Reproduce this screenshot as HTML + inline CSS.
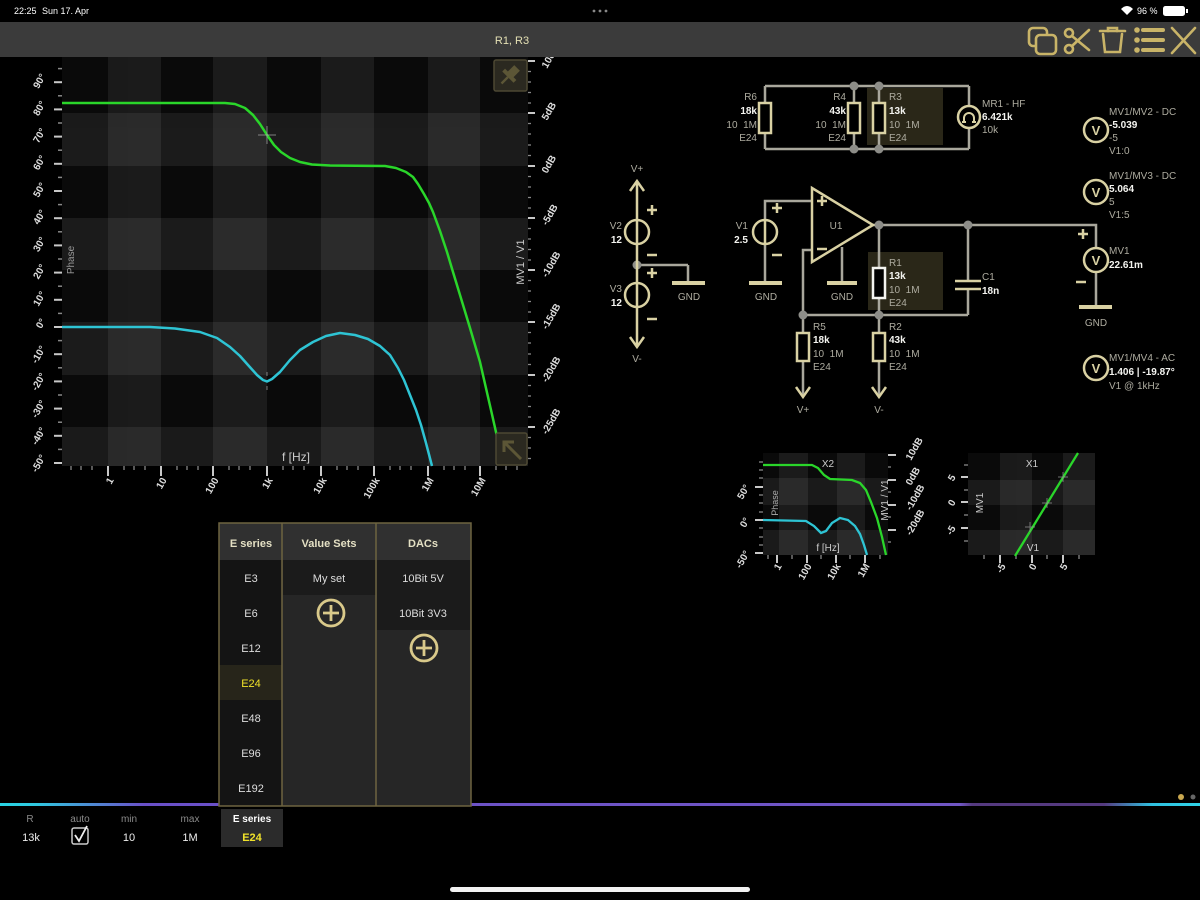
<!DOCTYPE html>
<html><head><meta charset="utf-8"><style>
html,body{margin:0;padding:0;background:#000;width:1200px;height:900px;overflow:hidden}
svg{display:block}
text{font-family:"Liberation Sans",sans-serif}
.pre{white-space:pre}
</style></head><body>
<svg width="1200" height="900" viewBox="0 0 1200 900" xmlns="http://www.w3.org/2000/svg">
<defs>
<linearGradient id="bar" x1="0" y1="0" x2="1200" y2="0" gradientUnits="userSpaceOnUse">
<stop offset="0" stop-color="#28d4e4"/><stop offset="0.03" stop-color="#30c8e0"/><stop offset="0.12" stop-color="#6a50c8"/>
<stop offset="0.8" stop-color="#7056c4"/><stop offset="0.81" stop-color="#553a80"/><stop offset="0.92" stop-color="#553a80"/>
<stop offset="0.96" stop-color="#30c0e0"/><stop offset="1" stop-color="#30d4e8"/>
</linearGradient>
</defs>
<rect width="1200" height="900" fill="#000"/>

<!-- ===== MAIN PLOT ===== -->
<rect x="62" y="57" width="466" height="409" fill="#0a0a0a"/>
<g fill="#fff" opacity="0.065">
<rect x="108" y="57" width="53" height="409"/><rect x="213" y="57" width="54" height="409"/>
<rect x="321" y="57" width="53" height="409"/><rect x="428" y="57" width="52" height="409"/>
</g>
<g fill="#fff" opacity="0.065">
<rect x="62" y="113" width="466" height="53"/><rect x="62" y="218" width="466" height="52"/>
<rect x="62" y="322" width="466" height="53"/><rect x="62" y="427" width="466" height="39"/>
</g>

<!-- left ticks -->
<g stroke="#c8c8c8" stroke-width="2">
<line x1="54" y1="82.2" x2="62" y2="82.2"/><line x1="54" y1="109.4" x2="62" y2="109.4"/><line x1="54" y1="136.6" x2="62" y2="136.6"/>
<line x1="54" y1="163.8" x2="62" y2="163.8"/><line x1="54" y1="191" x2="62" y2="191"/><line x1="54" y1="218.2" x2="62" y2="218.2"/>
<line x1="54" y1="245.4" x2="62" y2="245.4"/><line x1="54" y1="272.6" x2="62" y2="272.6"/><line x1="54" y1="299.8" x2="62" y2="299.8"/>
<line x1="54" y1="327" x2="62" y2="327"/><line x1="54" y1="354.2" x2="62" y2="354.2"/><line x1="54" y1="381.4" x2="62" y2="381.4"/>
<line x1="54" y1="408.6" x2="62" y2="408.6"/><line x1="54" y1="435.8" x2="62" y2="435.8"/><line x1="54" y1="463" x2="62" y2="463"/>
</g>
<g stroke="#888" stroke-width="1.5">
<line x1="58" y1="68.6" x2="62" y2="68.6"/><line x1="58" y1="95.8" x2="62" y2="95.8"/><line x1="58" y1="123" x2="62" y2="123"/>
<line x1="58" y1="150.2" x2="62" y2="150.2"/><line x1="58" y1="177.4" x2="62" y2="177.4"/><line x1="58" y1="204.6" x2="62" y2="204.6"/>
<line x1="58" y1="231.8" x2="62" y2="231.8"/><line x1="58" y1="259" x2="62" y2="259"/><line x1="58" y1="286.2" x2="62" y2="286.2"/>
<line x1="58" y1="313.4" x2="62" y2="313.4"/><line x1="58" y1="340.6" x2="62" y2="340.6"/><line x1="58" y1="367.8" x2="62" y2="367.8"/>
<line x1="58" y1="395" x2="62" y2="395"/><line x1="58" y1="422.2" x2="62" y2="422.2"/><line x1="58" y1="449.4" x2="62" y2="449.4"/>
</g>
<g font-size="10" fill="#ddd" text-anchor="end" font-weight="bold">
<text transform="translate(46,76.2) rotate(-60)">90°</text>
<text transform="translate(46,103.4) rotate(-60)">80°</text>
<text transform="translate(46,130.6) rotate(-60)">70°</text>
<text transform="translate(46,157.8) rotate(-60)">60°</text>
<text transform="translate(46,185) rotate(-60)">50°</text>
<text transform="translate(46,212.2) rotate(-60)">40°</text>
<text transform="translate(46,239.4) rotate(-60)">30°</text>
<text transform="translate(46,266.6) rotate(-60)">20°</text>
<text transform="translate(46,293.8) rotate(-60)">10°</text>
<text transform="translate(46,321) rotate(-60)">0°</text>
<text transform="translate(46,348.2) rotate(-60)">-10°</text>
<text transform="translate(46,375.4) rotate(-60)">-20°</text>
<text transform="translate(46,402.6) rotate(-60)">-30°</text>
<text transform="translate(46,429.8) rotate(-60)">-40°</text>
<text transform="translate(46,457) rotate(-60)">-50°</text>
</g>

<!-- right ticks -->
<g stroke="#c8c8c8" stroke-width="2">
<line x1="528" y1="61" x2="535" y2="61"/><line x1="528" y1="113" x2="535" y2="113"/><line x1="528" y1="166" x2="535" y2="166"/>
<line x1="528" y1="218" x2="535" y2="218"/><line x1="528" y1="270" x2="535" y2="270"/><line x1="528" y1="322" x2="535" y2="322"/>
<line x1="528" y1="375" x2="535" y2="375"/><line x1="528" y1="427" x2="535" y2="427"/>
</g>
<g stroke="#888" stroke-width="1.3">
<line x1="528" y1="71.5" x2="531" y2="71.5"/><line x1="528" y1="82" x2="531" y2="82"/><line x1="528" y1="92.5" x2="531" y2="92.5"/><line x1="528" y1="103" x2="531" y2="103"/>
<line x1="528" y1="123.5" x2="531" y2="123.5"/><line x1="528" y1="134" x2="531" y2="134"/><line x1="528" y1="145" x2="531" y2="145"/><line x1="528" y1="155.5" x2="531" y2="155.5"/>
<line x1="528" y1="176.5" x2="531" y2="176.5"/><line x1="528" y1="187" x2="531" y2="187"/><line x1="528" y1="197.5" x2="531" y2="197.5"/><line x1="528" y1="208" x2="531" y2="208"/>
<line x1="528" y1="228.5" x2="531" y2="228.5"/><line x1="528" y1="239" x2="531" y2="239"/><line x1="528" y1="249.5" x2="531" y2="249.5"/><line x1="528" y1="260" x2="531" y2="260"/>
<line x1="528" y1="280.5" x2="531" y2="280.5"/><line x1="528" y1="291" x2="531" y2="291"/><line x1="528" y1="301.5" x2="531" y2="301.5"/><line x1="528" y1="312" x2="531" y2="312"/>
<line x1="528" y1="332.5" x2="531" y2="332.5"/><line x1="528" y1="343" x2="531" y2="343"/><line x1="528" y1="354" x2="531" y2="354"/><line x1="528" y1="364.5" x2="531" y2="364.5"/>
<line x1="528" y1="385.5" x2="531" y2="385.5"/><line x1="528" y1="396" x2="531" y2="396"/><line x1="528" y1="406.5" x2="531" y2="406.5"/><line x1="528" y1="417" x2="531" y2="417"/>
<line x1="528" y1="437.5" x2="531" y2="437.5"/><line x1="528" y1="448" x2="531" y2="448"/><line x1="528" y1="458.5" x2="531" y2="458.5"/>
</g>
<g font-size="10" fill="#ddd" font-weight="bold">
<text transform="translate(547,69) rotate(-60)">10dB</text>
<text transform="translate(547,121) rotate(-60)">5dB</text>
<text transform="translate(547,174) rotate(-60)">0dB</text>
<text transform="translate(547,226) rotate(-60)">-5dB</text>
<text transform="translate(547,278) rotate(-60)">-10dB</text>
<text transform="translate(547,330) rotate(-60)">-15dB</text>
<text transform="translate(547,383) rotate(-60)">-20dB</text>
<text transform="translate(547,435) rotate(-60)">-25dB</text>
</g>

<!-- bottom ticks -->
<g stroke="#c8c8c8" stroke-width="2">
<line x1="108" y1="466" x2="108" y2="476"/><line x1="161" y1="466" x2="161" y2="476"/><line x1="213" y1="466" x2="213" y2="476"/>
<line x1="267" y1="466" x2="267" y2="476"/><line x1="321" y1="466" x2="321" y2="476"/><line x1="374" y1="466" x2="374" y2="476"/>
<line x1="428" y1="466" x2="428" y2="476"/><line x1="480" y1="466" x2="480" y2="476"/>
</g>
<g stroke="#888" stroke-width="1.3">
<line x1="71" y1="466" x2="71" y2="470"/><line x1="81" y1="466" x2="81" y2="470"/><line x1="92" y1="466" x2="92" y2="470"/>
<line x1="124" y1="466" x2="124" y2="470"/><line x1="134" y1="466" x2="134" y2="470"/><line x1="145" y1="466" x2="145" y2="470"/>
<line x1="177" y1="466" x2="177" y2="470"/><line x1="187" y1="466" x2="187" y2="470"/><line x1="198" y1="466" x2="198" y2="470"/>
<line x1="229" y1="466" x2="229" y2="470"/><line x1="239" y1="466" x2="239" y2="470"/><line x1="250" y1="466" x2="250" y2="470"/>
<line x1="283" y1="466" x2="283" y2="470"/><line x1="293" y1="466" x2="293" y2="470"/><line x1="304" y1="466" x2="304" y2="470"/>
<line x1="337" y1="466" x2="337" y2="470"/><line x1="347" y1="466" x2="347" y2="470"/><line x1="358" y1="466" x2="358" y2="470"/>
<line x1="390" y1="466" x2="390" y2="470"/><line x1="400" y1="466" x2="400" y2="470"/><line x1="411" y1="466" x2="411" y2="470"/>
<line x1="444" y1="466" x2="444" y2="470"/><line x1="454" y1="466" x2="454" y2="470"/><line x1="465" y1="466" x2="465" y2="470"/>
<line x1="496" y1="466" x2="496" y2="470"/><line x1="506" y1="466" x2="506" y2="470"/><line x1="517" y1="466" x2="517" y2="470"/>
</g>
<g font-size="10" fill="#ddd" text-anchor="end" font-weight="bold">
<text transform="translate(114,480) rotate(-60)">1</text>
<text transform="translate(167,480) rotate(-60)">10</text>
<text transform="translate(219,480) rotate(-60)">100</text>
<text transform="translate(273,480) rotate(-60)">1k</text>
<text transform="translate(327,480) rotate(-60)">10k</text>
<text transform="translate(380,480) rotate(-60)">100k</text>
<text transform="translate(434,480) rotate(-60)">1M</text>
<text transform="translate(486,480) rotate(-60)">10M</text>
</g>

<text transform="translate(74,260) rotate(-90)" text-anchor="middle" font-size="10" fill="#999">Phase</text>
<text transform="translate(524,262) rotate(-90)" text-anchor="middle" font-size="11" fill="#ccc">MV1 / V1</text>
<text x="296" y="461" text-anchor="middle" font-size="12" fill="#ccc">f [Hz]</text>

<!-- curves -->
<polyline fill="none" stroke="#2ad62a" stroke-width="2.5" stroke-linejoin="round" points="62,103 225,103 235,104 245,108 253,115 260,124 267,135 274,145 281,152 290,158 300,162 312,164.5 330,165.5 385,166 396,168 406,172 413,177 418,184 424,194 429,203 433,212 440,231 447,252 453,272 460,295 470,328 480,362 491,410 503,463"/>
<polyline fill="none" stroke="#2ec4d4" stroke-width="2.5" stroke-linejoin="round" points="62,327 150,327 175,328.5 200,332 217,338 230,347 240,356 248,365 257,375 263,380 267,381.5 272,379 280,372 290,360 300,350 313,342 326,336 340,333 355,335 368,339 380,346 390,355 398,368 404,380 410,395 416,410 421,425 426,443 432,466"/>
<g stroke="#aaa" stroke-width="1" opacity="0.7">
<line x1="258" y1="135" x2="276" y2="135"/><line x1="267" y1="126" x2="267" y2="144"/>
<line x1="267" y1="372" x2="267" y2="376"/><line x1="267" y1="386" x2="267" y2="390"/>
</g>

<!-- pin & expand -->
<rect x="494" y="60" width="33" height="31" rx="2" fill="#2b2920" stroke="#4d4833" stroke-width="1.5"/>
<g fill="#5c5636" transform="translate(510,75) rotate(45)">
<rect x="-4" y="-10" width="8" height="10"/><rect x="-8" y="-1" width="16" height="4"/><rect x="-1.2" y="3" width="2.4" height="9"/>
</g>
<rect x="496" y="433" width="31" height="32" rx="2" fill="#2b2920" stroke="#4d4833" stroke-width="1.5"/>
<g stroke="#5c5636" stroke-width="3" fill="none"><line x1="521" y1="459" x2="505" y2="443"/><path d="M504,452 V442 H514"/></g>

<!-- ===== STATUS & TITLE BAR ===== -->
<rect x="0" y="0" width="1200" height="22" fill="#000"/>
<text x="14" y="14" font-size="9" fill="#fff">22:25</text>
<text x="42" y="14" font-size="9" fill="#fff">Sun 17. Apr</text>
<circle cx="594" cy="11" r="1.4" fill="#888"/><circle cx="600" cy="11" r="1.4" fill="#888"/><circle cx="606" cy="11" r="1.4" fill="#888"/>
<path d="M1121,9 Q1127,3 1133,9 L1127,15 Z" fill="#fff"/>
<text x="1137" y="14" font-size="9" fill="#fff">96 %</text>
<rect x="1163" y="6" width="22" height="10" rx="2.5" fill="#fff"/><rect x="1186" y="9" width="2" height="4" fill="#fff"/>

<rect x="0" y="22" width="1200" height="35" fill="#3b3b3b"/>
<text x="512" y="44" text-anchor="middle" font-size="11" fill="#e4e0b4">R1, R3</text>
<g stroke="#c9b468" stroke-width="2.6" fill="none" stroke-linecap="round">
<rect x="1029" y="28" width="18" height="18" rx="4"/>
<rect x="1036" y="35" width="20" height="19" rx="4" fill="#3b3b3b"/>
<circle cx="1069" cy="33" r="4"/><circle cx="1069" cy="49" r="4"/>
<line x1="1072" y1="36" x2="1089" y2="50"/><line x1="1072" y1="46" x2="1089" y2="30"/>
<line x1="1100" y1="31" x2="1125" y2="31"/><path d="M1108,31 V28 H1117 V31"/><path d="M1103,34 L1105,52 H1120 L1122,34"/>
<line x1="1143" y1="30" x2="1163" y2="30" stroke-width="4"/><line x1="1143" y1="40" x2="1163" y2="40" stroke-width="4"/><line x1="1143" y1="50" x2="1163" y2="50" stroke-width="4"/>
<line x1="1172" y1="28" x2="1195" y2="53"/><line x1="1195" y1="28" x2="1172" y2="53"/>
</g>
<g fill="#c9b468"><circle cx="1137" cy="30" r="2.8"/><circle cx="1137" cy="40" r="2.8"/><circle cx="1137" cy="50" r="2.8"/></g>

<!-- ===== CIRCUIT ===== -->
<rect x="867" y="88" width="76" height="57" fill="#2a2718"/>
<rect x="868" y="252" width="75" height="58" fill="#2a2718"/>

<g stroke="#a9a79c" stroke-width="2.5" fill="none">
<path d="M765,86 H969 M765,149 H969"/>
<path d="M765,86 V103 M765,133 V149 M854,86 V103 M854,133 V149 M879,86 V103 M879,133 V149 M969,86 V106 M969,128 V149"/>
<path d="M688,265 H637 M688,265 V281"/>
<path d="M812,201 H765 V220"/>
<path d="M812,250 H803 V315"/>
<path d="M842,247 V281"/>
<path d="M873,225 H1096 V248"/>
<path d="M879,225 V268 M879,298 V333"/>
<path d="M803,315 H968 M968,225 V281 M968,289 V315"/>
<path d="M803,315 V333 M803,361 V395 M879,361 V395"/>
<path d="M765,244 V281"/>
<path d="M1096,272 V305"/>
</g>
<g fill="#8d8d88">
<circle cx="854" cy="86" r="4.5"/><circle cx="879" cy="86" r="4.5"/><circle cx="854" cy="149" r="4.5"/><circle cx="879" cy="149" r="4.5"/>
<circle cx="637" cy="265" r="4.5"/><circle cx="879" cy="225" r="4.5"/><circle cx="968" cy="225" r="4.5"/>
<circle cx="803" cy="315" r="4.5"/><circle cx="879" cy="315" r="4.5"/>
</g>

<g stroke="#d9d1a3" stroke-width="2.5" fill="none">
<rect x="759" y="103" width="12" height="30" fill="#000"/>
<rect x="848" y="103" width="12" height="30" fill="#000"/>
<rect x="873" y="103" width="12" height="30" fill="#000"/>
<circle cx="969" cy="117" r="11"/>
<path d="M964,122 V118 A5,5 0 0 1 974,118 V122 M962,122 H966 M972,122 H976" stroke-width="2"/>
<path d="M637,181 V220 M630,191 L637,181 L644,191"/>
<circle cx="637" cy="232" r="12"/><path d="M637,220 V283"/>
<circle cx="637" cy="295" r="12"/><path d="M637,283 V346 M630,337 L637,347 L644,337"/>
<path d="M647,210 H657 M652,205 V215 M647,255 H657 M647,273 H657 M652,268 V278 M647,319 H657"/>
<path d="M672,283 H705" stroke-width="4"/>
<circle cx="765" cy="232" r="12"/><path d="M765,220 V244"/>
<path d="M772,208 H782 M777,203 V213 M772,255 H782"/>
<path d="M749,283 H782" stroke-width="4"/>
<path d="M812,188 V262 L873,225 Z" stroke-linejoin="miter"/>
<path d="M817,201 H827 M822,196 V206 M817,249 H827"/>
<path d="M827,283 H857" stroke-width="4"/>
<path d="M955,281 H981 M955,289 H981"/>
<rect x="797" y="333" width="12" height="28" fill="#000"/>
<rect x="873" y="333" width="12" height="28" fill="#000"/>
<path d="M796,387 L803,397 L810,387 M872,387 L879,397 L886,387"/>
<path d="M1078,234 H1088 M1083,229 V239 M1076,282 H1086"/>
<circle cx="1096" cy="260" r="12"/>
<path d="M1079,307 H1112" stroke-width="4"/>
<circle cx="1096" cy="130" r="12"/>
<circle cx="1096" cy="192" r="12"/>
<circle cx="1096" cy="368" r="12"/>
</g>
<rect x="873" y="268" width="12" height="30" fill="#000" stroke="#f4f4f0" stroke-width="2.5"/>
<g font-size="13" font-weight="bold" fill="#d9d1a3" text-anchor="middle">
<text x="1096" y="135">V</text><text x="1096" y="197">V</text><text x="1096" y="265">V</text><text x="1096" y="373">V</text>
</g>

<g font-size="10" fill="#aeaca0">
<text x="637" y="172" text-anchor="middle">V+</text>
<text x="637" y="362" text-anchor="middle">V-</text>
<text x="689" y="300" text-anchor="middle">GND</text>
<text x="766" y="300" text-anchor="middle">GND</text>
<text x="842" y="300" text-anchor="middle">GND</text>
<text x="1096" y="326" text-anchor="middle">GND</text>
<text x="803" y="413" text-anchor="middle">V+</text>
<text x="879" y="413" text-anchor="middle">V-</text>
<text x="836" y="229" text-anchor="middle">U1</text>
<text x="622" y="229" text-anchor="end">V2</text>
<text x="622" y="292" text-anchor="end">V3</text>
<text x="748" y="229" text-anchor="end">V1</text>
<text x="757" y="100" text-anchor="end">R6</text>
<text x="757" y="128" text-anchor="end" class="pre">10  1M</text>
<text x="757" y="141" text-anchor="end">E24</text>
<text x="846" y="100" text-anchor="end">R4</text>
<text x="846" y="128" text-anchor="end" class="pre">10  1M</text>
<text x="846" y="141" text-anchor="end">E24</text>
<text x="889" y="100">R3</text>
<text x="889" y="128" class="pre">10  1M</text>
<text x="889" y="141">E24</text>
<text x="982" y="107">MR1 - HF</text>
<text x="982" y="133">10k</text>
<text x="889" y="266">R1</text>
<text x="889" y="293" class="pre">10  1M</text>
<text x="889" y="306">E24</text>
<text x="982" y="280">C1</text>
<text x="813" y="330">R5</text>
<text x="813" y="357" class="pre">10  1M</text>
<text x="813" y="370">E24</text>
<text x="889" y="330">R2</text>
<text x="889" y="357" class="pre">10  1M</text>
<text x="889" y="370">E24</text>
<text x="1109" y="115">MV1/MV2 - DC</text>
<text x="1109" y="141">-5</text>
<text x="1109" y="154">V1:0</text>
<text x="1109" y="179">MV1/MV3 - DC</text>
<text x="1109" y="205">5</text>
<text x="1109" y="218">V1:5</text>
<text x="1109" y="254">MV1</text>
<text x="1109" y="361">MV1/MV4 - AC</text>
<text x="1109" y="389">V1 @ 1kHz</text>
</g>
<g font-size="10" fill="#f4f4f0" font-weight="bold">
<text x="622" y="243" text-anchor="end">12</text>
<text x="622" y="306" text-anchor="end">12</text>
<text x="748" y="243" text-anchor="end">2.5</text>
<text x="757" y="114" text-anchor="end">18k</text>
<text x="846" y="114" text-anchor="end">43k</text>
<text x="889" y="114">13k</text>
<text x="982" y="120">6.421k</text>
<text x="889" y="279">13k</text>
<text x="982" y="294">18n</text>
<text x="813" y="343">18k</text>
<text x="889" y="343">43k</text>
<text x="1109" y="128">-5.039</text>
<text x="1109" y="192">5.064</text>
<text x="1109" y="268">22.61m</text>
<text x="1109" y="375">1.406 | -19.87°</text>
</g>

<!-- ===== SMALL PLOT X2 ===== -->
<rect x="763" y="453" width="125" height="102" fill="#0a0a0a"/>
<g fill="#fff" opacity="0.065"><rect x="779" y="453" width="29" height="102"/><rect x="837" y="453" width="28" height="102"/></g>
<g fill="#fff" opacity="0.065"><rect x="763" y="478" width="125" height="27"/><rect x="763" y="530" width="125" height="25"/></g>
<g stroke="#c8c8c8" stroke-width="2">
<line x1="755" y1="487" x2="763" y2="487"/><line x1="755" y1="520" x2="763" y2="520"/><line x1="755" y1="553" x2="763" y2="553"/>
<line x1="888" y1="455" x2="896" y2="455"/><line x1="888" y1="480" x2="896" y2="480"/><line x1="888" y1="505" x2="896" y2="505"/><line x1="888" y1="530" x2="896" y2="530"/>
<line x1="777" y1="555" x2="777" y2="563"/><line x1="807" y1="555" x2="807" y2="563"/><line x1="836" y1="555" x2="836" y2="563"/><line x1="865" y1="555" x2="865" y2="563"/>
</g>
<g stroke="#888" stroke-width="1.3">
<line x1="759" y1="462" x2="763" y2="462"/><line x1="759" y1="470" x2="763" y2="470"/><line x1="759" y1="478" x2="763" y2="478"/><line x1="759" y1="495" x2="763" y2="495"/><line x1="759" y1="503" x2="763" y2="503"/><line x1="759" y1="512" x2="763" y2="512"/><line x1="759" y1="528" x2="763" y2="528"/><line x1="759" y1="537" x2="763" y2="537"/><line x1="759" y1="545" x2="763" y2="545"/>
<line x1="888" y1="467" x2="891" y2="467"/><line x1="888" y1="492" x2="891" y2="492"/><line x1="888" y1="517" x2="891" y2="517"/><line x1="888" y1="542" x2="891" y2="542"/>
<line x1="792" y1="555" x2="792" y2="559"/><line x1="821" y1="555" x2="821" y2="559"/><line x1="850" y1="555" x2="850" y2="559"/><line x1="880" y1="555" x2="880" y2="559"/><line x1="768" y1="555" x2="768" y2="559"/>
</g>
<polyline fill="none" stroke="#2ad62a" stroke-width="2.3" points="763,465 812,465 818,468 824,475 830,479 852,480 860,483 866,490 871,502 877,518 882,537 886,555"/>
<polyline fill="none" stroke="#2ec4d4" stroke-width="2.3" points="763,520 806,521 814,526 821,533 826,531 832,523 840,518 848,520 855,526 860,534 864,545 867,555"/>
<g font-size="10" fill="#ddd" font-weight="bold">
<text transform="translate(750,487) rotate(-60)" text-anchor="end">50°</text>
<text transform="translate(750,520) rotate(-60)" text-anchor="end">0°</text>
<text transform="translate(750,553) rotate(-60)" text-anchor="end">-50°</text>
<text transform="translate(911,461) rotate(-60)">10dB</text>
<text transform="translate(911,486) rotate(-60)">0dB</text>
<text transform="translate(911,511) rotate(-60)">-10dB</text>
<text transform="translate(911,536) rotate(-60)">-20dB</text>
<text transform="translate(782,566) rotate(-60)" text-anchor="end">1</text>
<text transform="translate(812,566) rotate(-60)" text-anchor="end">100</text>
<text transform="translate(841,566) rotate(-60)" text-anchor="end">10k</text>
<text transform="translate(870,566) rotate(-60)" text-anchor="end">1M</text>
</g>
<text x="828" y="467" text-anchor="middle" font-size="10" fill="#ccc">X2</text>
<text x="828" y="551" text-anchor="middle" font-size="10" fill="#ccc">f [Hz]</text>
<text transform="translate(778,503) rotate(-90)" text-anchor="middle" font-size="9" fill="#aaa">Phase</text>
<text transform="translate(888,500) rotate(-90)" text-anchor="middle" font-size="10" fill="#ccc">MV1 / V1</text>

<!-- ===== SMALL PLOT X1 ===== -->
<rect x="968" y="453" width="127" height="102" fill="#0a0a0a"/>
<g fill="#fff" opacity="0.065"><rect x="1000" y="453" width="32" height="102"/><rect x="1063" y="453" width="32" height="102"/></g>
<g fill="#fff" opacity="0.065"><rect x="968" y="480" width="127" height="25"/><rect x="968" y="530" width="127" height="25"/></g>
<g stroke="#c8c8c8" stroke-width="2">
<line x1="961" y1="477" x2="968" y2="477"/><line x1="961" y1="502" x2="968" y2="502"/><line x1="961" y1="528" x2="968" y2="528"/>
<line x1="1000" y1="555" x2="1000" y2="563"/><line x1="1032" y1="555" x2="1032" y2="563"/><line x1="1063" y1="555" x2="1063" y2="563"/>
</g>
<g stroke="#888" stroke-width="1.3">
<line x1="964" y1="465" x2="968" y2="465"/><line x1="964" y1="490" x2="968" y2="490"/><line x1="964" y1="515" x2="968" y2="515"/><line x1="964" y1="541" x2="968" y2="541"/>
<line x1="984" y1="555" x2="984" y2="559"/><line x1="1016" y1="555" x2="1016" y2="559"/><line x1="1047" y1="555" x2="1047" y2="559"/><line x1="1079" y1="555" x2="1079" y2="559"/>
</g>
<line x1="1015" y1="556" x2="1078" y2="453" stroke="#2ad62a" stroke-width="2.3"/>
<g stroke="#999" stroke-width="1" opacity="0.7">
<path d="M1058,477 H1068 M1063,472 V482 M1042,503 H1052 M1047,498 V508 M1025,527 H1035 M1030,522 V532"/>
</g>
<g font-size="10" fill="#ddd" font-weight="bold" text-anchor="end">
<text transform="translate(956,477) rotate(-60)">5</text>
<text transform="translate(956,502) rotate(-60)">0</text>
<text transform="translate(956,528) rotate(-60)">-5</text>
<text transform="translate(1006,566) rotate(-60)">-5</text>
<text transform="translate(1037,566) rotate(-60)">0</text>
<text transform="translate(1068,566) rotate(-60)">5</text>
</g>
<text x="1032" y="467" text-anchor="middle" font-size="10" fill="#ccc">X1</text>
<text x="1033" y="551" text-anchor="middle" font-size="10" fill="#ccc">V1</text>
<text transform="translate(983,503) rotate(-90)" text-anchor="middle" font-size="10" fill="#ccc">MV1</text>

<!-- ===== BOTTOM BAR ===== -->
<rect x="0" y="803" width="1200" height="3" fill="url(#bar)"/>
<circle cx="1181" cy="797" r="3" fill="#c9a850"/><circle cx="1193" cy="797" r="2.5" fill="#666"/>

<!-- ===== TABLE ===== -->
<rect x="219" y="523" width="252" height="283" fill="#262626"/>
<rect x="219" y="560" width="63" height="246" fill="#141414"/>
<rect x="219" y="665" width="63" height="35" fill="#27251a"/>
<rect x="219" y="523" width="252" height="37" fill="#303030"/>
<rect x="283" y="560" width="93" height="35" fill="#1b1b1b"/>
<rect x="377" y="560" width="93" height="70" fill="#1b1b1b"/>
<g stroke="#6e6440" stroke-width="1.5" fill="none">
<rect x="219" y="523" width="252" height="283"/>
<line x1="282" y1="523" x2="282" y2="806"/><line x1="376" y1="523" x2="376" y2="806"/>
</g>
<g font-size="11" text-anchor="middle">
<text x="251" y="547" fill="#e4e0c4" font-weight="bold">E series</text>
<text x="329" y="547" fill="#e4e0c4" font-weight="bold">Value Sets</text>
<text x="423" y="547" fill="#e4e0c4" font-weight="bold">DACs</text>
<text x="251" y="582" fill="#ddd">E3</text>
<text x="251" y="617" fill="#ddd">E6</text>
<text x="251" y="652" fill="#ddd">E12</text>
<text x="251" y="687" fill="#f0e22a">E24</text>
<text x="251" y="722" fill="#ddd">E48</text>
<text x="251" y="757" fill="#ddd">E96</text>
<text x="251" y="792" fill="#ddd">E192</text>
<text x="329" y="582" fill="#ddd">My set</text>
<text x="423" y="582" fill="#ddd">10Bit 5V</text>
<text x="423" y="617" fill="#ddd">10Bit 3V3</text>
</g>
<g stroke="#d9c98a" stroke-width="2.8" fill="none">
<circle cx="331" cy="613" r="13"/><path d="M323,613 H339 M331,605 V621"/>
<circle cx="424" cy="648" r="13"/><path d="M416,648 H432 M424,640 V656"/>
</g>

<!-- bottom controls -->
<rect x="221" y="809" width="62" height="38" fill="#2b2b2b"/>
<g font-size="10" fill="#8a8a8a" text-anchor="middle">
<text x="30" y="822">R</text><text x="80" y="822">auto</text><text x="129" y="822">min</text><text x="190" y="822">max</text>
</g>
<g font-size="11" fill="#eee" text-anchor="middle">
<text x="31" y="841">13k</text><text x="129" y="841">10</text><text x="190" y="841">1M</text>
</g>
<text x="252" y="822" font-size="10" fill="#fff" font-weight="bold" text-anchor="middle">E series</text>
<text x="252" y="841" font-size="11" fill="#f0e22a" font-weight="bold" text-anchor="middle">E24</text>
<rect x="72" y="828" width="16" height="16" rx="2" fill="none" stroke="#ccc" stroke-width="1.5"/>
<path d="M75,835 L79,841 L87,826" fill="none" stroke="#eee" stroke-width="1.8"/>

<rect x="450" y="887" width="300" height="5" rx="2.5" fill="#f2f2f2"/>
</svg>
</body></html>
